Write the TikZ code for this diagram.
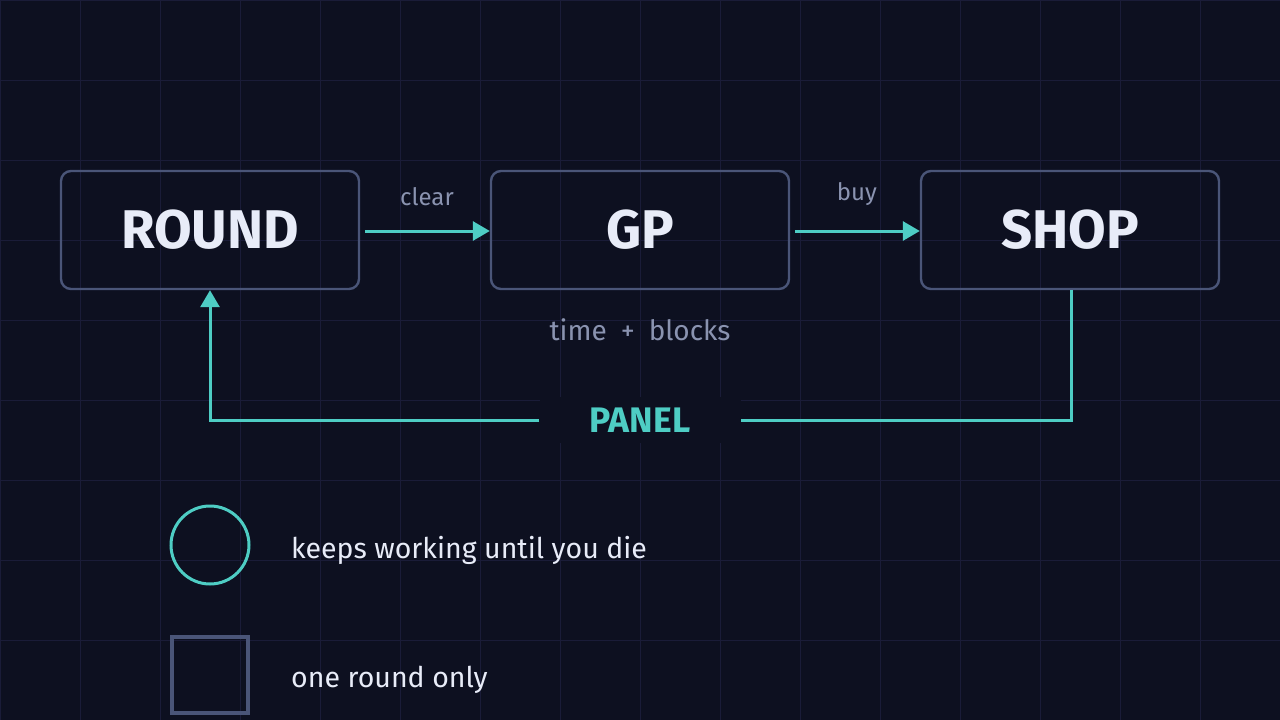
\documentclass[tikz,border=0pt]{standalone}
\usepackage{fontspec}
\setmainfont{Fira Sans}
\usetikzlibrary{arrows.meta}
\definecolor{bg}{HTML}{0D1020}
\definecolor{gridc}{HTML}{1A1C38}
\definecolor{boxc}{HTML}{4A5578}
\definecolor{teal}{HTML}{4ECDC4}
\definecolor{txt}{HTML}{E8ECF8}
\definecolor{muted}{HTML}{8A93B0}
\tikzset{
  stagebox/.style={draw=boxc, line width=2.4pt, rounded corners=10pt, minimum width=298pt, minimum height=118pt, inner sep=0pt, text=txt, font=\fontsize{54.5}{54.5}\selectfont\bfseries},
  flow/.style={draw=teal, line width=3pt, -{Triangle[length=17pt,width=19pt]}},
  lbl/.style={text=muted, font=\fontsize{24}{24}\selectfont, inner sep=0pt},
  legtxt/.style={text=txt, font=\fontsize{28.5}{28.5}\selectfont, inner sep=0pt, anchor=base west},
}
\begin{document}
\begin{tikzpicture}[x=1pt,y=-1pt]
\fill[bg] (0,0) rectangle (1280,720);
\useasboundingbox (0,0) rectangle (1280,720);
\foreach \i in {0,80,...,1280} \draw[gridc, line width=1pt] (\i,0) -- (\i,720);
\foreach \j in {0,80,...,720} \draw[gridc, line width=1pt] (0,\j) -- (1280,\j);
\node[stagebox] (round) at (210,230) {ROUND};
\node[stagebox] (gp) at (640,230) {GP};
\node[stagebox] (shop) at (1070,230) {SHOP};
\coordinate (a1s) at (365,231);
\coordinate (a2s) at (795,231);
\draw[flow] (a1s) -- (gp.west |- a1s);
\draw[flow] (a2s) -- (shop.west |- a2s);
\node[lbl] (clear) at (427,197) {clear};
\node[lbl] (buy) at (857,194) {buy};
\node[text=muted, font=\fontsize{28}{28}\selectfont, inner sep=0pt] (tb) at (640,330) {time\hspace{14pt}+\hspace{14pt}blocks};
\node[fill=bg, minimum width=201pt, minimum height=46pt, inner sep=0pt, text=teal, font=\fontsize{35.5}{35.5}\selectfont\bfseries] (panel) at (640,420) {PANEL};
\coordinate (c1) at (1071,420);
\coordinate (c2) at (210,420);
\draw[draw=teal, line width=3pt] (shop.south -| c1) -- (c1) -- (panel.east);
\draw[flow] (panel.west) -- (c2) -- (round.south -| c2);
\node[draw=teal, line width=3pt, circle, minimum size=78pt, inner sep=0pt] (lc) at (210,545) {};
\node[draw=boxc, line width=3.5pt, minimum size=76pt, inner sep=0pt] (ls) at (210,675) {};
\node[legtxt] (t1) at (291,558) {keeps working until you die};
\node[legtxt] (t2) at (291,687) {one round only};
\end{tikzpicture}
\end{document}
